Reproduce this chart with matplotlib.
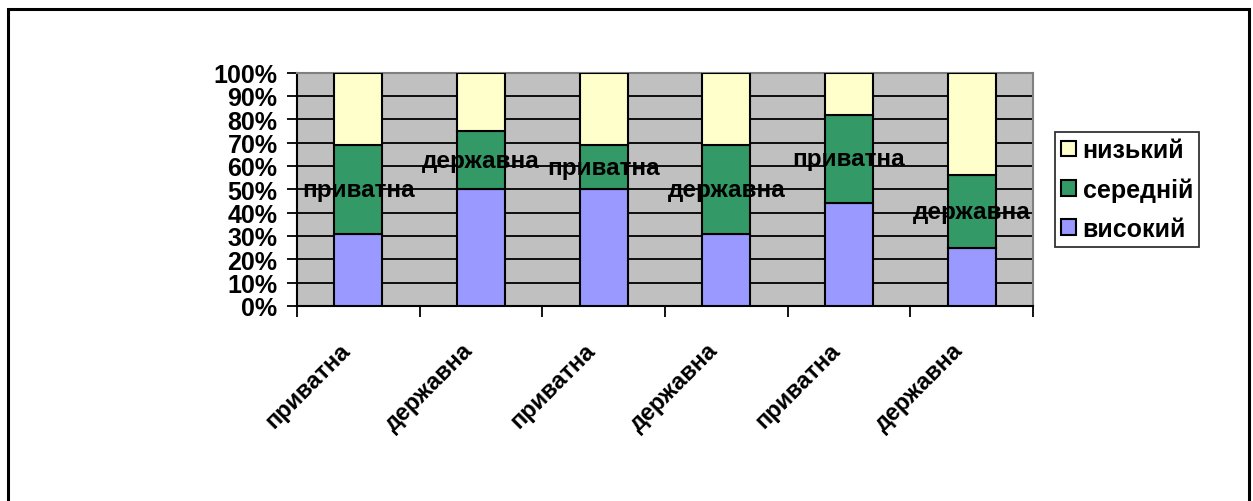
import matplotlib.pyplot as plt
from matplotlib.patches import Rectangle
from matplotlib.transforms import ScaledTranslation
import numpy as np

plt.rcParams["font.family"] = ["Liberation Sans", "DejaVu Sans"]
plt.rcParams["font.weight"] = "bold"

# data (percent of each bar)
categories = ["приватна", "державна", "приватна", "державна", "приватна", "державна"]
high = [31, 50, 50, 31, 44, 25]     # високий
mid = [38, 25, 19, 38, 38, 31]      # середній
low = [31, 25, 31, 31, 18, 44]      # низький
series_names = ["високий", "середній", "низький"]
colors = ["#9999FF", "#339966", "#FFFFCC"]

fig = plt.figure(figsize=(12.53, 5.02), dpi=100)
fig.patches.append(Rectangle((8 / 1253, -0.05), (1249 - 8) / 1253, 1 - 10 / 502 + 0.05,
                             transform=fig.transFigure, fill=False,
                             edgecolor="black", linewidth=2.2))

ax = fig.add_axes([297 / 1253, (502 - 307) / 502, (1033 - 297) / 1253, (307 - 73.5) / 502])
ax.set_facecolor("#C0C0C0")

x = np.arange(len(categories))
w = 0.39
bottoms = np.zeros(len(categories))
handles = []
for vals, name, c in zip([high, mid, low], series_names, colors):
    b = ax.bar(x, vals, w, bottom=bottoms, color=c, edgecolor="black",
               linewidth=1.5, label=name, zorder=3)
    handles.append(b)
    if name == "середній":
        for xi, bi, v, lab in zip(x, bottoms, vals, categories):
            ax.text(xi, bi + v / 2, lab, ha="center", va="center",
                    fontsize=17.5, fontweight="bold", zorder=5)
    bottoms = bottoms + np.array(vals)

ax.set_xlim(-0.5, len(categories) - 0.5)
ax.set_ylim(0, 100)
ax.set_yticks(np.arange(0, 101, 10))
ax.set_yticklabels([f"{v}%" for v in range(0, 101, 10)], fontsize=18, fontweight="bold")
ax.yaxis.grid(True, color="black", linewidth=1.3, zorder=1)
ax.set_axisbelow(True)

# category boundary ticks, labels at centres
ax.set_xticks(np.arange(-0.5, len(categories), 1))
ax.set_xticklabels([])
ax.set_xticks(x, minor=True)
ax.set_xticklabels(categories, minor=True, rotation=45, ha="right", va="center",
                   rotation_mode="anchor", fontsize=17, fontweight="bold")
ax.tick_params(axis="x", which="minor", length=0, pad=0)
off = ScaledTranslation(-12 / 100, -40 / 100, fig.dpi_scale_trans)
for t in ax.get_xticklabels(minor=True):
    t.set_transform(t.get_transform() + off)
ax.tick_params(axis="x", which="major", length=8, width=1.3, direction="out")
ax.tick_params(axis="y", length=7, width=1.3, direction="out", pad=7)

for s in ["left", "bottom"]:
    ax.spines[s].set_linewidth(1.5)
    ax.spines[s].set_color("black")
for s in ["top", "right"]:
    ax.spines[s].set_linewidth(1.5)
    ax.spines[s].set_color("#808080")

leg = fig.legend(handles[::-1], series_names[::-1], loc="upper left",
                 bbox_to_anchor=(1055 / 1253, 1 - 133 / 502),
                 fontsize=18, frameon=True, fancybox=False, edgecolor="black",
                 handlelength=0.6, handleheight=0.6, handletextpad=0.25,
                 labelspacing=0.6, borderpad=0.25, borderaxespad=0)
leg.get_frame().set_linewidth(1.3)
for t in leg.get_texts():
    t.set_fontweight("bold")

fig.savefig("out.png", dpi=100)
